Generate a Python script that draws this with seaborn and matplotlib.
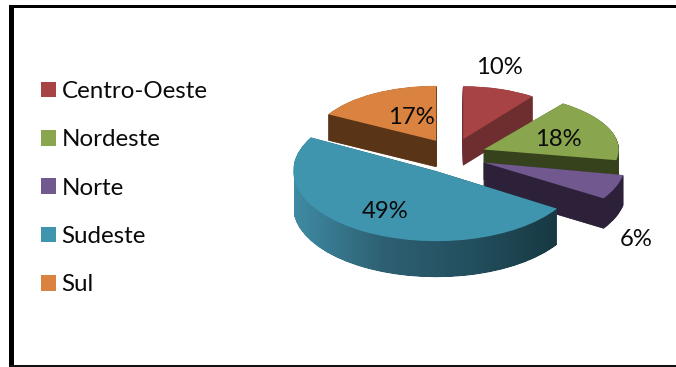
import numpy as np
import matplotlib
matplotlib.use("Agg")
import matplotlib.pyplot as plt
from matplotlib.path import Path
from matplotlib.patches import PathPatch
from matplotlib.transforms import Affine2D
from matplotlib.colors import LinearSegmentedColormap
import seaborn as sns

regions = ["Centro-Oeste", "Nordeste", "Norte", "Sudeste", "Sul"]
shares = [10, 18, 6, 49, 17]

top_colors = ["#A84345", "#89A54E", "#71588F", "#4095AE", "#DA8240"]
wall_colors = ["#6E2E30", "#36421B", "#2C2139", "#2A5F70", "#5A3417"]
palette = sns.color_palette(top_colors)

# Foreshortened size of each slice: nearer slices are drawn larger.
slice_width = [118, 135, 142, 143, 123]
slice_height = [53, 57, 67, 70, 55]
slice_depth = [26, 30, 30, 36, 26]
draw_order = [4, 0, 1, 2, 3]

label_xy = [(499, 68), (558, 140), (636, 240), (385, 212), (411, 118)]

W, H = 676, 367
sns.set_theme(style="white")
plt.rcParams["font.family"] = ["Lato", "DejaVu Sans"]

fig = plt.figure(figsize=(W / 100, H / 100), dpi=100)
ax = fig.add_axes([0, 0, 1, 1])

wedges, _ = ax.pie(shares, colors=palette, explode=[0.22] * 5, radius=1,
                   startangle=90, counterclock=False)
ax.set_aspect("auto")
ax.set_xlim(0, W)
ax.set_ylim(H, 0)
ax.axis("off")

CENTER = (453, 156)
SPREAD_X, SPREAD_Y = 150, 80


def placement(i, drop=0.0):
    """Affine from pie units to pixels for slice i, lowered by drop pixels."""
    ex, ey = wedges[i].center
    return (Affine2D().translate(-ex, -ey)
            .scale(slice_width[i], -slice_height[i])
            .translate(CENTER[0] + ex * SPREAD_X,
                       CENTER[1] - ey * SPREAD_Y + drop))


for rank, i in enumerate(draw_order):
    w = wedges[i]
    base = 10 + rank * 10
    outline = w.get_path()
    if regions[i] == "Sudeste":
        # The outer wall of the largest slice fades from light to dark.
        layers = [outline.transformed(placement(i, d))
                  for d in np.arange(0, slice_depth[i] + 0.5, 0.5)]
        sweep = Path.make_compound_path(*layers)
        ramp = LinearSegmentedColormap.from_list(
            "wall", ["#3F8BA3", "#2E6073", "#234F5E", "#173842"])
        im = ax.imshow(np.linspace(0, 1, 256)[None, :], cmap=ramp,
                       extent=(294, 560, 285, 130), aspect="auto", zorder=base)
        holder = PathPatch(sweep, transform=ax.transData, fc="none", ec="none")
        ax.add_patch(holder)
        im.set_clip_path(holder)
    else:
        for d in np.arange(slice_depth[i], 0, -0.5):
            ax.add_patch(PathPatch(outline, transform=placement(i, d) + ax.transData,
                                   fc=wall_colors[i], ec=wall_colors[i], lw=0.4,
                                   zorder=base))
    w.set_transform(placement(i) + ax.transData)
    w.set_zorder(base + 1)
    w.set_linewidth(0)

ax.set_xlim(0, W)
ax.set_ylim(H, 0)

for (x, y), v in zip(label_xy, shares):
    ax.text(x, y, f"{v}%", ha="center", va="center", fontsize=17.2,
            color="#0a0a0a", zorder=100)

leg = ax.legend(wedges, regions, loc="upper left",
                bbox_to_anchor=(41 / W, 1 - 81 / H), bbox_transform=fig.transFigure,
                frameon=False, fontsize=17.4, handlelength=0.63, handleheight=0.63,
                handletextpad=0.22, labelspacing=1.13, borderpad=0, borderaxespad=0,
                labelcolor="#0a0a0a")
leg.set_zorder(100)

# Heavy chart border on the left, thinner along the top and bottom.
ax.fill_between([9, 14], 5, H, color="black", lw=0, zorder=200)
ax.fill_between([9, W], 5, 8, color="black", lw=0, zorder=200)
ax.fill_between([9, W], 365, H, color="#111111", lw=0, zorder=200)

fig.savefig("out.png", dpi=100)
